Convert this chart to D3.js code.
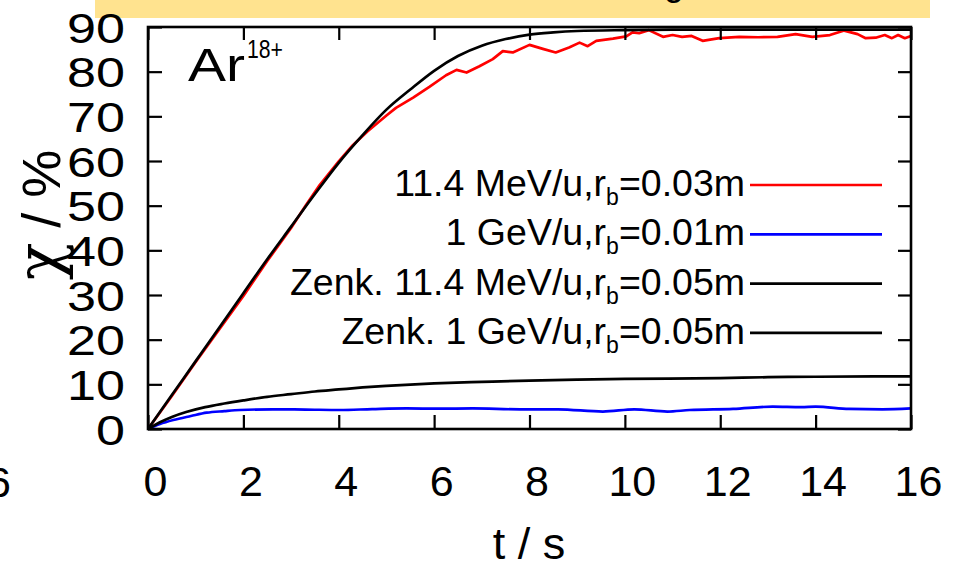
<!DOCTYPE html>
<html><head><meta charset="utf-8">
<script src="https://cdn.jsdelivr.net/npm/d3@7"></script>
<style>body{margin:0;background:#fff;} svg{display:block;font-family:"Liberation Sans",Arial,Helvetica,sans-serif;}</style>
</head><body><svg id="c" width="957" height="569"></svg>
<script>
// ---- data ----
const xTicks = [0,2,4,6,8,10,12,14,16];
const yTicks = [0,10,20,30,40,50,60,70,80,90];

const zenk11T = [0,0.5,1,1.5,2,2.5,3,3.5,4,4.5,5,5.5,6,6.5,7,7.5,8,8.5,9,10,11,12,14,16];
const zenk11V = [0,7.6,15.2,22.8,30.4,38,45.3,52.6,59.6,65.8,71.5,76.0,80.2,83.5,85.8,87.3,88.3,88.8,89.1,89.3,89.4,89.4,89.4,89.4];

const red11T = [0,0.5,1,1.5,2,2.5,3,3.3,3.6,4,4.3,4.6,5,5.2,5.56,5.9,6.25,6.47,6.68,6.95,7.23,7.44,7.65,8.0,8.28,8.55,8.83,9.05,9.22,9.4,9.75,10.03,10.16,10.3,10.5,10.8,11.0,11.2,11.4,11.63,11.98,12.4,12.8,13.2,13.58,13.93,14.3,14.6,14.88,15.05,15.26,15.45,15.6,15.73,15.87,16];
const red11V = [0,7.4,15.0,22.4,29.8,37.6,45.0,49.9,54.6,59.9,63.6,66.6,70.2,71.9,74.2,76.6,79.2,80.4,79.8,81.2,82.8,84.6,84.3,86.0,85.1,84.3,85.4,86.5,85.7,86.9,87.4,87.9,88.8,88.6,89.3,87.8,88.2,87.8,88.0,86.9,87.5,87.8,87.7,87.8,88.4,87.8,88.2,89.2,88.4,87.5,87.6,88.2,87.5,88.2,87.5,88.0];

const zenk1T = [0,0.25,0.5,0.8,1.2,1.6,2,2.5,3,3.5,4,4.5,5,5.5,6,7,8,9,10,12,13,14,16];
const zenk1V = [0,1.5,2.7,3.8,4.9,5.7,6.4,7.2,7.8,8.4,8.85,9.3,9.65,9.95,10.2,10.55,10.85,11.05,11.2,11.4,11.6,11.7,11.8];

const blue1T = [0,0.25,0.53,0.9,1.23,1.6,1.93,2.62,3.3,4.02,4.7,5.42,6.1,6.81,7.8,8.6,9.54,10.2,10.89,11.36,12.27,13.1,13.7,14.0,14.7,15.4,16];
const blue1V = [0,1.1,2.0,2.9,3.65,4.0,4.25,4.4,4.35,4.25,4.45,4.6,4.55,4.6,4.4,4.4,3.9,4.4,3.9,4.25,4.5,5.0,4.9,5.0,4.5,4.4,4.6];

const legendLabels = [
  {pre:"11.4 MeV/u,r", sub:"b", post:"=0.03m", color:"#ff0000"},
  {pre:"1 GeV/u,r", sub:"b", post:"=0.01m", color:"#0000ff"},
  {pre:"Zenk. 11.4 MeV/u,r", sub:"b", post:"=0.05m", color:"#000000"},
  {pre:"Zenk. 1 GeV/u,r", sub:"b", post:"=0.05m", color:"#000000"}
];

// ---- layout ----
const svg = d3.select("#c");
const L=148, R=911, T=27, B=429;
const x = d3.scaleLinear().domain([0,16]).range([L,R]);
const y = d3.scaleLinear().domain([0,90]).range([B,T]);

// top banner
svg.append("rect").attr("x",95).attr("y",-2).attr("width",835).attr("height",20).attr("fill","#ffe38f");
svg.append("text").attr("x",674).attr("y",-5).attr("font-size",36).attr("text-anchor","middle").text("g");
// clipped neighbour label
svg.append("text").attr("x",11).attr("y",497).attr("font-size",43).attr("text-anchor","end").text("16");

const pts = (ts,vs)=>ts.map((t,i)=>[t,vs[i]]);
const line = d3.line().x(d=>x(d[0])).y(d=>y(d[1]));
const lineC = d3.line().x(d=>x(d[0])).y(d=>y(d[1])).curve(d3.curveMonotoneX);

const series = [
  {d:pts(zenk1T,zenk1V), c:"#000", curve:true},
  {d:pts(blue1T,blue1V), c:"#0000ff", curve:true},
  {d:pts(zenk11T,zenk11V), c:"#000", curve:true},
  {d:pts(red11T,red11V), c:"#ff0000", curve:false}
];
[series[3],series[2],series[1],series[0]].forEach(s=>{
  svg.append("path").attr("d",(s.curve?lineC:line)(s.d)).attr("fill","none")
    .attr("stroke",s.c).attr("stroke-width",2.7).attr("stroke-linejoin","round");
});

// axes (gnuplot style: inward ticks on all sides)
const ax = svg.append("g").attr("transform",`translate(0,${B})`)
  .call(d3.axisBottom(x).tickValues(xTicks).tickSize(-14).tickPadding(36).tickFormat(d3.format("d")));
const ay = svg.append("g").attr("transform",`translate(${L},0)`)
  .call(d3.axisLeft(y).tickValues(yTicks).tickSize(-14).tickPadding(23).tickFormat(d3.format("d")));
const at = svg.append("g").attr("transform",`translate(0,${T})`)
  .call(d3.axisTop(x).tickValues(xTicks).tickSize(-13).tickFormat(""));
const ar = svg.append("g").attr("transform",`translate(${R},0)`)
  .call(d3.axisRight(y).tickValues(yTicks).tickSize(-13).tickFormat(""));
[ax,ay,at,ar].forEach(g=>{
  g.select(".domain").remove();
  g.selectAll(".tick line").attr("stroke","#000").attr("stroke-width",2.2);
  g.selectAll("text").attr("fill","#000").attr("font-family","Liberation Sans, Arial, sans-serif");
});
ax.selectAll("text").attr("font-size",43).attr("dx",7);
ay.selectAll("text").attr("font-size",42).attr("dy","0.36em")
  .attr("textLength",d=>String(d).length*29).attr("lengthAdjust","spacingAndGlyphs");
// frame
svg.append("rect").attr("x",L).attr("y",T).attr("width",R-L).attr("height",B-T)
  .attr("fill","none").attr("stroke","#000").attr("stroke-width",2.6);

// Ar18+
svg.append("text").attr("x",188).attr("y",81).attr("font-size",47)
  .attr("textLength",57).attr("lengthAdjust","spacingAndGlyphs").text("Ar");
svg.append("text").attr("x",247).attr("y",58).attr("font-size",25)
  .attr("textLength",36).attr("lengthAdjust","spacingAndGlyphs").text("18+");

// legend
const lgX = 745, lgY0 = 185, lgDy = 49.3;
legendLabels.forEach((l,i)=>{
  const yy = lgY0 + i*lgDy;
  const t = svg.append("text").attr("x",lgX).attr("y",yy+11).attr("text-anchor","end").attr("font-size",37.5);
  t.append("tspan").text(l.pre);
  t.append("tspan").attr("font-size",23).attr("dy",9).text(l.sub);
  t.append("tspan").attr("dy",-9).text(l.post);
  svg.append("line").attr("x1",750).attr("x2",882).attr("y1",yy).attr("y2",yy)
    .attr("stroke",l.color).attr("stroke-width",2.7);
});

// axis titles
svg.append("text").attr("x",529).attr("y",559).attr("text-anchor","middle").attr("font-size",45).text("t / s");
const yt = svg.append("text").attr("transform","translate(60,215) rotate(-90)").attr("text-anchor","middle")
  .attr("font-size",54);
yt.append("tspan").attr("font-family","DejaVu Serif, serif").attr("font-size",62).text("χ");
yt.append("tspan").text(" / %");
</script></body></html>
